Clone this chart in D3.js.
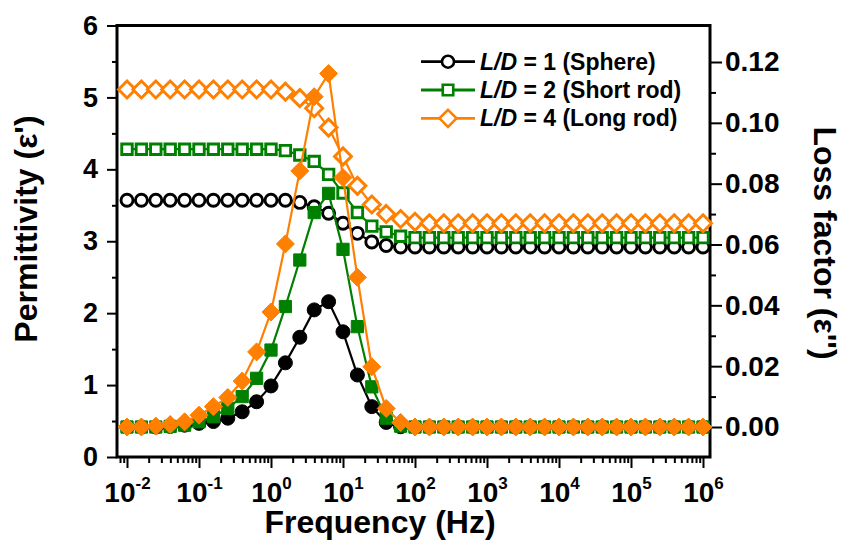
<!DOCTYPE html>
<html>
<head>
<meta charset="utf-8">
<script src="https://cdn.jsdelivr.net/npm/d3@7"></script>
<style>
  body { margin: 0; background: #fff; }
  svg { display: block; }
  text { font-family: "Liberation Sans", Arial, sans-serif; font-weight: bold; fill: #000; }
</style>
</head>
<body>
<div class="chart"></div>
<script>
// frequency, as log10(Hz)
var logFreq = [-2, -1.8, -1.6, -1.4, -1.2, -1, -0.8, -0.6, -0.4, -0.2,
  0, 0.2, 0.4, 0.6, 0.8, 1, 1.2, 1.4, 1.6, 1.8,
  2, 2.2, 2.4, 2.6, 2.8, 3, 3.2, 3.4, 3.6, 3.8,
  4, 4.2, 4.4, 4.6, 4.8, 5, 5.2, 5.4, 5.6, 5.8, 6];

// permittivity (left axis)
var epsSphere = [3.57, 3.57, 3.57, 3.57, 3.57, 3.57, 3.57, 3.57, 3.57, 3.57,
  3.57, 3.57, 3.54, 3.48, 3.39, 3.25, 3.11, 2.99, 2.94, 2.92,
  2.92, 2.92, 2.92, 2.92, 2.92, 2.92, 2.92, 2.92, 2.92, 2.92,
  2.92, 2.92, 2.92, 2.92, 2.92, 2.92, 2.92, 2.92, 2.92, 2.92, 2.92];
var epsShort = [4.28, 4.28, 4.28, 4.28, 4.28, 4.28, 4.28, 4.28, 4.28, 4.28,
  4.28, 4.26, 4.20, 4.11, 3.93, 3.67, 3.40, 3.21, 3.13, 3.07,
  3.05, 3.05, 3.05, 3.05, 3.05, 3.05, 3.05, 3.05, 3.05, 3.05,
  3.05, 3.05, 3.05, 3.05, 3.05, 3.05, 3.05, 3.05, 3.05, 3.05, 3.05];
var epsLong = [5.11, 5.11, 5.11, 5.11, 5.11, 5.11, 5.11, 5.11, 5.11, 5.11,
  5.11, 5.08, 4.99, 4.85, 4.58, 4.18, 3.77, 3.51, 3.38, 3.31,
  3.27, 3.25, 3.25, 3.25, 3.25, 3.25, 3.25, 3.25, 3.25, 3.25,
  3.25, 3.25, 3.25, 3.25, 3.25, 3.25, 3.25, 3.25, 3.25, 3.25, 3.25];

// loss factor (right axis)
var lossSphere = [0, 0, 0, 0.0002, 0.0006, 0.0012, 0.0018, 0.0029, 0.0050, 0.0083,
  0.0135, 0.0211, 0.0295, 0.0385, 0.0412, 0.0313, 0.0171, 0.0067, 0.0015, 0.0001,
  0, 0, 0, 0, 0, 0, 0, 0, 0, 0,
  0, 0, 0, 0, 0, 0, 0, 0, 0, 0, 0];
var lossShort = [0, 0, 0, 0.0002, 0.0006, 0.0017, 0.0034, 0.0061, 0.0100, 0.0160,
  0.0253, 0.0396, 0.0549, 0.0705, 0.0768, 0.0584, 0.0330, 0.0132, 0.0029, 0.0003,
  0, 0, 0, 0, 0, 0, 0, 0, 0, 0,
  0, 0, 0, 0, 0, 0, 0, 0, 0, 0, 0];
var lossLong = [0, 0, 0.0003, 0.0008, 0.0017, 0.0039, 0.0067, 0.0097, 0.0151, 0.0247,
  0.0378, 0.0602, 0.0842, 0.1086, 0.1162, 0.0820, 0.0492, 0.0198, 0.0061, 0.0015,
  0, 0, 0, 0, 0, 0, 0, 0, 0, 0,
  0, 0, 0, 0, 0, 0, 0, 0, 0, 0, 0];

var seriesNames = ['1 (Sphere)', '2 (Short rod)', '4 (Long rod)'];
var seriesColors = ['#000000', '#008000', '#ff7f00'];
var seriesShapes = ['circle', 'square', 'diamond'];

var leftTicks = [0, 1, 2, 3, 4, 5, 6];
var rightTicks = [0, 0.02, 0.04, 0.06, 0.08, 0.10, 0.12];
var decadeTicks = [-2, -1, 0, 1, 2, 3, 4, 5, 6];

var margin = { top: 25.5, right: 135, bottom: 103, left: 117 };
var width = 845 - margin.left - margin.right;
var height = 560 - margin.top - margin.bottom;

var svg = d3.select('.chart')
  .append('svg')
    .attr('width', 845)
    .attr('height', 560)
  .append('g')
    .attr('transform', `translate(${margin.left}, ${margin.top})`);

var x = d3.scaleLog()
  .domain([Math.pow(10, -2 - 10 / 72), Math.pow(10, 6 + 7 / 72)])
  .range([0, width]);
var yL = d3.scaleLinear().domain([0, 6]).range([height, 0]);
var yR = d3.scaleLinear().domain([-0.00986, 0.132]).range([height, 0]);

/**
 * Axes
 */
function styleAxis(g) {
  g.select('.domain').remove();
  g.selectAll('.tick line').attr('stroke', '#000').attr('stroke-width', 2);
}

// minor ticks first
var minorX = [];
for (var k = -3; k <= 6; k++) {
  for (var m = 2; m <= 9; m++) {
    var v = m * Math.pow(10, k);
    if (v > x.domain()[0] && v < x.domain()[1]) minorX.push(v);
  }
}
svg.append('g')
    .attr('transform', `translate(0, ${height})`)
  .call(d3.axisBottom(x).tickValues(minorX).tickSize(6).tickFormat(''))
  .call(styleAxis);

svg.append('g')
  .call(d3.axisLeft(yL).tickValues(d3.range(0.5, 6, 1)).tickSize(5).tickFormat(''))
  .call(styleAxis);

svg.append('g')
    .attr('transform', `translate(${width}, 0)`)
  .call(d3.axisRight(yR).tickValues(d3.range(0.01, 0.13, 0.02)).tickSize(6).tickFormat(''))
  .call(styleAxis);

// major ticks
var xAxisG = svg.append('g')
    .attr('transform', `translate(0, ${height})`)
  .call(d3.axisBottom(x)
    .tickValues(decadeTicks.map(function (e) { return Math.pow(10, e); }))
    .tickSize(11)
    .tickPadding(7)
    .tickFormat(''))
  .call(styleAxis);

xAxisG.selectAll('.tick text').each(function (d) {
  var t = d3.select(this)
    .attr('font-size', 28)
    .attr('dy', '0.95em');
  t.append('tspan').text('10');
  t.append('tspan')
    .attr('font-size', 17)
    .attr('dy', '-0.75em')
    .text(Math.round(Math.log10(d)));
});

svg.append('g')
  .call(d3.axisLeft(yL).tickValues(leftTicks).tickSize(10).tickPadding(9)
    .tickFormat(d3.format('d')))
  .call(styleAxis)
  .selectAll('.tick text').attr('font-size', 27);

svg.append('g')
    .attr('transform', `translate(${width}, 0)`)
  .call(d3.axisRight(yR).tickValues(rightTicks).tickSize(12).tickPadding(3)
    .tickFormat(d3.format('.2f')))
  .call(styleAxis)
  .selectAll('.tick text').attr('font-size', 28);

// frame
svg.append('rect')
  .attr('width', width)
  .attr('height', height)
  .attr('fill', 'none')
  .attr('stroke', '#000')
  .attr('stroke-width', 3);

/**
 * Titles
 */
svg.append('text')
  .attr('transform', `translate(${37 - margin.left}, ${229 - margin.top}) rotate(-90)`)
  .attr('text-anchor', 'middle')
  .attr('font-size', 32)
  .text("Permittivity (\u03b5')");

svg.append('text')
  .attr('transform', `translate(${814 - margin.left}, ${243 - margin.top}) rotate(90)`)
  .attr('text-anchor', 'middle')
  .attr('font-size', 32)
  .text("Loss factor (\u03b5'')");

svg.append('text')
  .attr('x', 380 - margin.left)
  .attr('y', 533 - margin.top)
  .attr('text-anchor', 'middle')
  .attr('font-size', 32)
  .text('Frequency (Hz)');

/**
 * Series
 */
function symbolPath(shape, filled) {
  if (shape === 'circle') return d3.symbol(d3.symbolCircle, filled ? 154 : 113)();
  if (shape === 'square') return d3.symbol(d3.symbolSquare, filled ? 150 : 110)();
  // diamond
  var r = filled ? 9 : 8.5;
  return `M0,${-r}L${r},0L0,${r}L${-r},0Z`;
}

function drawSeries(values, yScale, color, shape, filled) {
  var pts = values.map(function (v, i) { return [Math.pow(10, logFreq[i]), v]; });
  var line = d3.line()
    .x(function (d) { return x(d[0]); })
    .y(function (d) { return yScale(d[1]); });
  var g = svg.append('g');
  g.append('path')
    .datum(pts)
    .attr('d', line)
    .attr('fill', 'none')
    .attr('stroke', color)
    .attr('stroke-width', 2.2);
  g.selectAll('path.mk')
    .data(pts)
    .enter().append('path')
      .attr('class', 'mk')
      .attr('transform', function (d) { return `translate(${x(d[0])}, ${yScale(d[1])})`; })
      .attr('d', symbolPath(shape, filled))
      .attr('fill', filled ? color : '#fff')
      .attr('stroke', color)
      .attr('stroke-width', filled ? 1 : 2.9);
}

var epsData = [epsSphere, epsShort, epsLong];
var lossData = [lossSphere, lossShort, lossLong];
epsData.forEach(function (vals, i) { drawSeries(vals, yL, seriesColors[i], seriesShapes[i], false); });
lossData.forEach(function (vals, i) { drawSeries(vals, yR, seriesColors[i], seriesShapes[i], true); });

/**
 * Legend
 */
var legend = svg.append('g')
  .attr('transform', `translate(${421 - margin.left}, ${61.7 - margin.top})`);

seriesNames.forEach(function (name, i) {
  var row = legend.append('g').attr('transform', `translate(0, ${i * 28.3})`);
  row.append('line')
    .attr('x1', 0).attr('x2', 54)
    .attr('stroke', seriesColors[i])
    .attr('stroke-width', 2.8);
  row.append('path')
    .attr('transform', 'translate(27, 0)')
    .attr('d', symbolPath(seriesShapes[i], false))
    .attr('fill', '#fff')
    .attr('stroke', seriesColors[i])
    .attr('stroke-width', 2.6);
  var t = row.append('text')
    .attr('x', 59)
    .attr('y', 8)
    .attr('font-size', 23);
  t.append('tspan').attr('font-style', 'italic').text('L/D');
  t.append('tspan').text(' = ' + name);
});
</script>
</body>
</html>
